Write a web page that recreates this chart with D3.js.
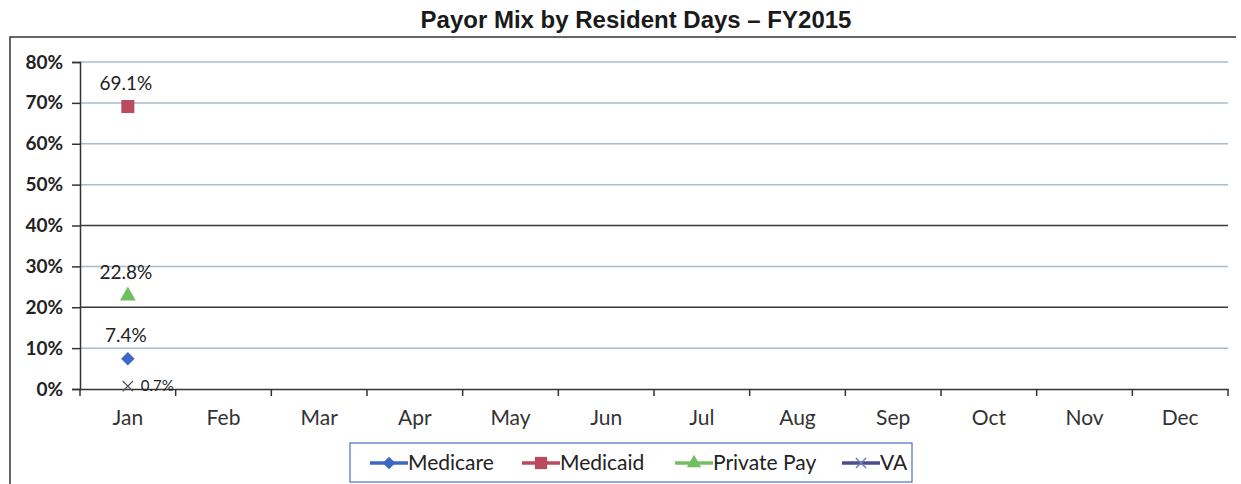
<!DOCTYPE html>
<html><head><meta charset="utf-8">
<script src="https://cdn.jsdelivr.net/npm/d3@7"></script>
<style>body{margin:0;background:#fff}svg{display:block}</style>
</head><body>
<script>
const months = ["Jan","Feb","Mar","Apr","May","Jun","Jul","Aug","Sep","Oct","Nov","Dec"];
const seriesNames = ["Medicare","Medicaid","Private Pay","VA"];
const medicare = [0.074];
const medicaid = [0.691];
const privatePay = [0.228];
const va = [0.007];
const yTicks = [0,0.1,0.2,0.3,0.4,0.5,0.6,0.7,0.8];
const darkGrid = [0.2,0.4];

const W=1241,H=484;
const svg=d3.select("body").append("svg").attr("width",W).attr("height",H);
const m={l:80,r:1228,t:62,b:389};
const x=d3.scaleBand().domain(months).range([m.l,m.r]);
const y=d3.scaleLinear().domain([0,0.8]).range([m.b,m.t]);
const lf="Lato, Open Sans, sans-serif";

// frame
svg.append("path").attr("d",`M10,484 L10,37 L1236,37`).attr("fill","none").attr("stroke","#333").attr("stroke-width",1.5);

svg.append("text").attr("x",636).attr("y",28).attr("text-anchor","middle")
 .attr("font-family","Liberation Sans, Arial, sans-serif").attr("font-weight","bold").attr("font-size",24).attr("fill","#1a1a1a")
 .text("Payor Mix by Resident Days \u2013 FY2015");

// grid
svg.append("g").selectAll("line").data(yTicks.filter(d=>d>0)).join("line")
 .attr("x1",m.l).attr("x2",m.r).attr("y1",d=>y(d)).attr("y2",d=>y(d))
 .attr("stroke",d=>darkGrid.includes(d)?"#3a3a3a":"#a9bccb").attr("stroke-width",1.5);

// y axis
const ya=svg.append("g").attr("transform",`translate(${m.l},0)`)
 .call(d3.axisLeft(y).tickValues(yTicks).tickFormat(d3.format(".0%")).tickSize(8).tickPadding(9));
ya.select(".domain").attr("stroke","#333").attr("stroke-width",1.5);
ya.selectAll("line").attr("stroke","#333").attr("stroke-width",1.5);
ya.selectAll("text").attr("font-family",lf).attr("font-weight","bold").attr("font-size",19).attr("fill","#222");

// x axis
const xa=svg.append("g").attr("transform",`translate(0,${m.b})`)
 .call(d3.axisBottom(x).tickSize(0).tickPadding(21));
xa.select(".domain").attr("stroke","#333").attr("stroke-width",1.5);
xa.selectAll("text").attr("font-family",lf).attr("font-size",21).attr("fill","#333");
const bounds=months.map(d=>x(d)).concat([m.r]);
svg.append("g").selectAll("line").data(bounds).join("line")
 .attr("x1",d=>d).attr("x2",d=>d).attr("y1",m.b).attr("y2",m.b+7).attr("stroke","#333").attr("stroke-width",1.5);

const cx=d=>x(d)+x.bandwidth()/2;
const colors={"Medicare":"#3c66c8","Medicaid":"#b94a5f","Private Pay":"#72bf62","VA":"#4a4e8a"};
const symbols={"Medicare":d3.symbolSquare,"Medicaid":d3.symbolSquare,"Private Pay":d3.symbolTriangle,"VA":d3.symbolX};
const rot={"Medicare":45,"Medicaid":0,"Private Pay":0,"VA":0};
const data=[["Medicare",medicare],["Medicaid",medicaid],["Private Pay",privatePay],["VA",va]];
data.forEach(([name,vals])=>{
  const g=svg.append("g");
  g.selectAll("path").data(vals).join("path")
   .attr("transform",(v,i)=>`translate(${cx(months[i])},${y(v)}) rotate(${rot[name]})`)
   .attr("d",d3.symbol().type(symbols[name]).size(name==="VA"?70:name==="Medicaid"?170:name==="Medicare"?90:110))
   .attr("fill",name==="VA"?"none":colors[name]).attr("stroke",name==="VA"?"#555":"none").attr("stroke-width",1.2);
  g.selectAll("text").data(vals).join("text")
   .attr("x",(v,i)=>name==="VA"?cx(months[i])+13:cx(months[i])-2)
   .attr("y",v=>name==="VA"?y(v)+5:y(v)-17)
   .attr("text-anchor",name==="VA"?"start":"middle")
   .attr("font-family",lf).attr("font-size",name==="VA"?15:19).attr("fill","#222")
   .text(v=>d3.format(".1%")(v));
});

// legend
const lg=svg.append("g");
lg.append("rect").attr("x",350).attr("y",443).attr("width",562).attr("height",39).attr("fill","#fff").attr("stroke","#4a6fbf").attr("stroke-width",1.2);
const lx=[370,522,675,842];
seriesNames.forEach((n,i)=>{
  const g=lg.append("g").attr("transform",`translate(${lx[i]},463)`);
  g.append("line").attr("x1",0).attr("x2",38).attr("stroke",colors[n]).attr("stroke-width",3.5);
  g.append("path").attr("transform",`translate(19,0) rotate(${rot[n]})`).attr("d",d3.symbol().type(symbols[n]).size(n==="VA"?70:n==="Medicaid"?150:n==="Medicare"?80:90))
   .attr("fill",n==="VA"?"none":colors[n]).attr("stroke",n==="VA"?"#6a7fbf":"none").attr("stroke-width",1.4);
  g.append("text").attr("x",38).attr("y",7).attr("font-family",lf).attr("font-size",21).attr("fill","#222").text(n);
});
</script>
</body></html>
